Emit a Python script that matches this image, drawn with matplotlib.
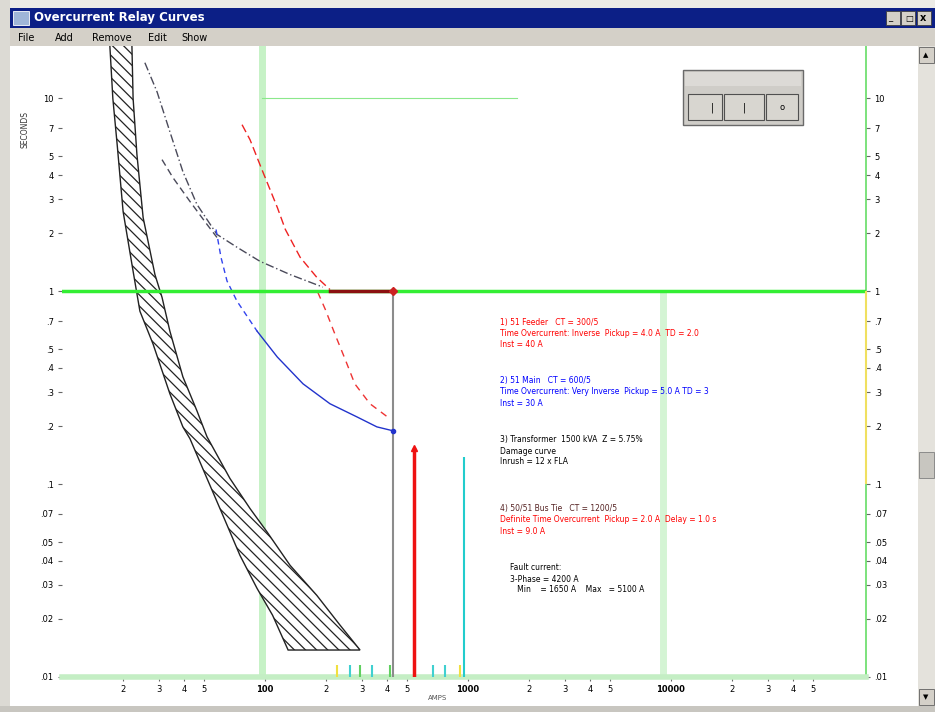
import numpy as np
import matplotlib
matplotlib.use("Agg")
from matplotlib import pyplot as plt
from matplotlib.patches import Rectangle

W, H = 935, 712

# time (s) tick marks, same on both sides
time_ticks = [10, 7, 5, 4, 3, 2, 1, 0.7, 0.5, 0.4, 0.3, 0.2, 0.1,
              0.07, 0.05, 0.04, 0.03, 0.02, 0.01]
time_labels = ["10", "7", "5", "4", "3", "2", "1", ".7", ".5", ".4", ".3", ".2", ".1",
               ".07", ".05", ".04", ".03", ".02", ".01"]

# current (A) tick marks
amp_ticks = [20, 30, 40, 50, 100, 200, 300, 400, 500, 1000,
             2000, 3000, 4000, 5000, 10000, 20000, 30000, 40000, 50000]
amp_labels = ["2", "3", "4", "5", "100", "2", "3", "4", "5", "1000",
              "2", "3", "4", "5", "10000", "2", "3", "4", "5"]

# transformer damage band (amps, seconds)
band_lo_amps = [17.2, 17.8, 18.7, 20.0, 22.4, 24.2, 28.1, 34.0, 39.4, 42.7,
                51.8, 62.1, 75.3, 91.4, 109, 130]
band_lo_time = [18.9, 10.0, 5.75, 2.59, 1.27, 0.788, 0.532, 0.294, 0.198, 0.172,
                0.107, 0.0687, 0.0427, 0.0288, 0.0209, 0.0138]
band_hi_amps = [22.1, 22.4, 23.4, 25.1, 28.7, 31.1, 34.0, 39.4, 46.2, 51.8,
                67.2, 84.4, 102, 133, 180, 234, 294]
band_hi_time = [18.9, 10.0, 5.1, 2.41, 1.22, 0.93, 0.621, 0.360, 0.240, 0.176,
                0.107, 0.0747, 0.0568, 0.0379, 0.0265, 0.0186, 0.0138]

# relay curves
curve_a_amps = [25.6, 29.4, 34.0, 39.4, 46.2, 58.0, 72.8, 94.4, 133, 193]
curve_a_time = [15.3, 10.8, 6.71, 4.17, 2.82, 1.97, 1.69, 1.43, 1.22, 1.05]
curve_b_amps = [31.1, 35.2, 42.7, 51.8, 58.0]
curve_b_time = [4.81, 3.88, 2.92, 2.22, 1.90]
blue_amps = [57.4, 60.7, 65.0, 72.8, 91.4, 115, 154, 209, 284, 356, 427]
blue_time = [2.09, 1.50, 1.13, 0.888, 0.621, 0.456, 0.331, 0.261, 0.223, 0.198, 0.189]
red_amps = [77.1, 84.4, 96.6, 115, 126, 149, 180, 209]
red_time = [7.30, 6.10, 4.27, 2.72, 2.09, 1.50, 1.18, 1.02]
red_dt_amps = [209, 427]
red_dt_time = [1.0, 1.0]
red_low_amps = [182, 198, 221, 248, 277, 329, 413]
red_low_time = [0.988, 0.807, 0.600, 0.445, 0.331, 0.261, 0.218]

# instantaneous / fault lines
fault_gray = 427
inst_red, inst_red_top = 542, 0.153
inst_cyan, inst_cyan_top = 955, 0.139
ref_time = 1.0
grid_amps = [96.6, 9140]
ref_line_amps = [96.6, 1742]
ref_line_time = 10.0
axis_marks = [226, 262, 294, 336, 413, 673, 771, 914]
axis_mark_colors = ["#f0e040", "#40d0d0", "#60d060", "#40d0d0", "#60d060",
                    "#40d0d0", "#40d0d0", "#f0e040"]

notes = [
    (500, 322, ["1) 51 Feeder   CT = 300/5",
                "Time Overcurrent: Inverse  Pickup = 4.0 A  TD = 2.0",
                "Inst = 40 A"], ["red", "red", "red"]),
    (500, 381, ["2) 51 Main   CT = 600/5",
                "Time Overcurrent: Very Inverse  Pickup = 5.0 A TD = 3",
                "Inst = 30 A"], ["blue", "blue", "blue"]),
    (500, 440, ["3) Transformer  1500 kVA  Z = 5.75%",
                "Damage curve",
                "Inrush = 12 x FLA"], ["black", "black", "black"]),
    (500, 509, ["4) 50/51 Bus Tie   CT = 1200/5",
                "Definite Time Overcurrent  Pickup = 2.0 A  Delay = 1.0 s",
                "Inst = 9.0 A"], ["#552222", "red", "red"]),
    (510, 568, ["Fault current:",
                "3-Phase = 4200 A",
                "   Min    = 1650 A    Max   = 5100 A"], ["black", "black", "black"]),
]

fig = plt.figure(figsize=(W / 100, H / 100), dpi=100)
fig.patch.set_facecolor("white")


def box(x0, y0, x1, y1, **kw):
    fig.patches.append(Rectangle((x0 / W, 1 - y1 / H), (x1 - x0) / W, (y1 - y0) / H,
                                 transform=fig.transFigure, **kw))


def label(x, y, s, **kw):
    fig.text(x / W, 1 - y / H, s, **kw)


# window frame, title bar and menu
box(0, 0, W, 8, facecolor="#ecebe6", edgecolor="none")
box(0, 0, 10, H, facecolor="#dcdad4", edgecolor="none")
box(10, 8, W, 28, facecolor="#0c1f86", edgecolor="none")
box(13, 11, 29, 25, facecolor="#9fb5d8", edgecolor="#ffffff", lw=0.6)
label(34, 18, "Overcurrent Relay Curves", color="white", fontsize=8.5,
      fontweight="bold", va="center")
for bx in (886, 901, 917):
    box(bx, 11, bx + 14, 25, facecolor="#d4d0c8", edgecolor="#404040", lw=0.6)
label(888, 18, "_", fontsize=6, va="center")
label(905, 18, "□", fontsize=6, va="center")
label(920, 18, "x", fontsize=7, va="center", fontweight="bold")
box(10, 28, W, 46, facecolor="#d4d0c8", edgecolor="none")
for mx, name in [(18, "File"), (55, "Add"), (92, "Remove"), (148, "Edit"), (181, "Show")]:
    label(mx, 38, name, fontsize=7, va="center")

# scrollbar and bottom edge
box(918, 46, W, 706, facecolor="#e4e2dc", edgecolor="none")
box(919, 47, 934, 63, facecolor="#d4d0c8", edgecolor="#606060", lw=0.6)
box(919, 689, 934, 705, facecolor="#d4d0c8", edgecolor="#606060", lw=0.6)
box(919, 452, 934, 478, facecolor="#c8c6c0", edgecolor="#808080", lw=0.6)
label(926, 55, "▲", fontsize=5, ha="center", va="center")
label(926, 697, "▼", fontsize=5, ha="center", va="center")
box(0, 706, W, H, facecolor="#c8c6c0", edgecolor="none")

ax = fig.add_axes([62 / W, 1 - 677 / H, (866 - 62) / W, (677 - 45) / H])
ax.set_xscale("log")
ax.set_yscale("log")
ax.set_xlim(10, 10 ** 4.961)
ax.set_ylim(0.01, 18.9)
ax.set_facecolor("white")

# soft vertical guide lines
ax.axvline(grid_amps[0], color="#c6f2c6", lw=5, zorder=0)
ax.vlines(grid_amps[1], 0.01, ref_time, color="#d4f4d4", lw=5, zorder=0)
ax.plot(ref_line_amps, [ref_line_time, ref_line_time], color="#8be88b", lw=0.8, zorder=1)

# damage band
plt.rcParams["hatch.linewidth"] = 0.9
ax.fill(band_lo_amps + band_hi_amps[::-1], band_lo_time + band_hi_time[::-1],
        facecolor="white", edgecolor="#222222", hatch="\\\\\\", lw=1.0, zorder=2)

ax.plot(curve_a_amps, curve_a_time, color="#4a4a5a", lw=1, ls=(0, (6, 2, 1, 2)), zorder=3)
ax.plot(curve_b_amps, curve_b_time, color="#4a4a5a", lw=1, ls=(0, (5, 3)), zorder=3)
ax.plot(blue_amps[:5], blue_time[:5], color="#3344ee", lw=1, ls=(0, (4, 3)), zorder=3)
ax.plot(blue_amps[4:], blue_time[4:], color="#2233cc", lw=1, zorder=3)
ax.plot(blue_amps[-1], blue_time[-1], marker="o", ms=3, color="#2233cc", zorder=4)
ax.plot(red_amps, red_time, color="#ee2222", lw=1, ls=(0, (6, 3)), zorder=3)
ax.plot(red_low_amps, red_low_time, color="#ee3333", lw=1, ls=(0, (5, 4)), zorder=3)

# 1 s reference and definite-time element
ax.axhline(ref_time, color="#33ee33", lw=2.5, zorder=4)
ax.plot(red_dt_amps, red_dt_time, color="#8b1010", lw=2.5, zorder=5)
ax.plot(red_dt_amps[-1], red_dt_time[-1], marker="D", ms=4, color="#cc2222", zorder=6)

# instantaneous and fault current lines
ax.vlines(fault_gray, 0.01, ref_time, color="#8c8c8c", lw=1.5, zorder=3)
ax.vlines(inst_red, 0.01, inst_red_top, color="#ee1111", lw=2.5, zorder=3)
ax.plot(inst_red, inst_red_top, marker="^", ms=4, color="#ee1111", zorder=4)
ax.vlines(inst_cyan, 0.01, inst_cyan_top, color="#22cccc", lw=1.5, zorder=3)
for m, c in zip(axis_marks, axis_mark_colors):
    ax.vlines(m, 0.01, 0.0115, color=c, lw=1.5, zorder=3)

ax.set_yticks(time_ticks, time_labels)
ax.set_xticks(amp_ticks, amp_labels)
ax.minorticks_off()
ax.tick_params(axis="y", left=True, right=True, labelleft=True, labelright=True,
               labelsize=6, length=3, pad=3, color="#666666")
ax.tick_params(axis="x", labelsize=6, length=3, pad=3, color="#666666")
for t in ax.get_xticklabels():
    if t.get_text() in ("100", "1000", "10000"):
        t.set_fontweight("bold")

for side in ("left", "top"):
    ax.spines[side].set_visible(False)
ax.spines["bottom"].set_color("#c4eec4")
ax.spines["bottom"].set_linewidth(4)
ax.spines["right"].set_color("#66dd66")
ax.spines["right"].set_linewidth(1.2)
ax.vlines(ax.get_xlim()[1], 0.1, ref_time, color="#f0e060", lw=1.5, zorder=6, clip_on=False)

# axis titles
label(25, 130, "SECONDS", fontsize=5.5, rotation=90, ha="center", va="center", color="#333333")
label(438, 698, "AMPS", fontsize=5, ha="center", va="center", color="#555555")

# notes
for nx, ny, lines, colors in notes:
    for i, (s, c) in enumerate(zip(lines, colors)):
        label(nx, ny + i * 11, s, fontsize=5.5, color=c, va="center")

# floating tool window
box(683, 70, 803, 125, facecolor="#cfcdc8", edgecolor="#6a6a6a", lw=1)
box(685, 72, 801, 86, facecolor="#dcdad6", edgecolor="none")
for bx0, bx1 in [(688, 722), (724, 764), (766, 798)]:
    box(bx0, 94, bx1, 120, facecolor="#d8d6d0", edgecolor="#505050", lw=0.8)
label(712, 108, "|", fontsize=7, ha="center", va="center")
label(744, 108, "|", fontsize=7, ha="center", va="center")
label(782, 108, "o", fontsize=6, ha="center", va="center")

plt.savefig("out.png", dpi=100)
